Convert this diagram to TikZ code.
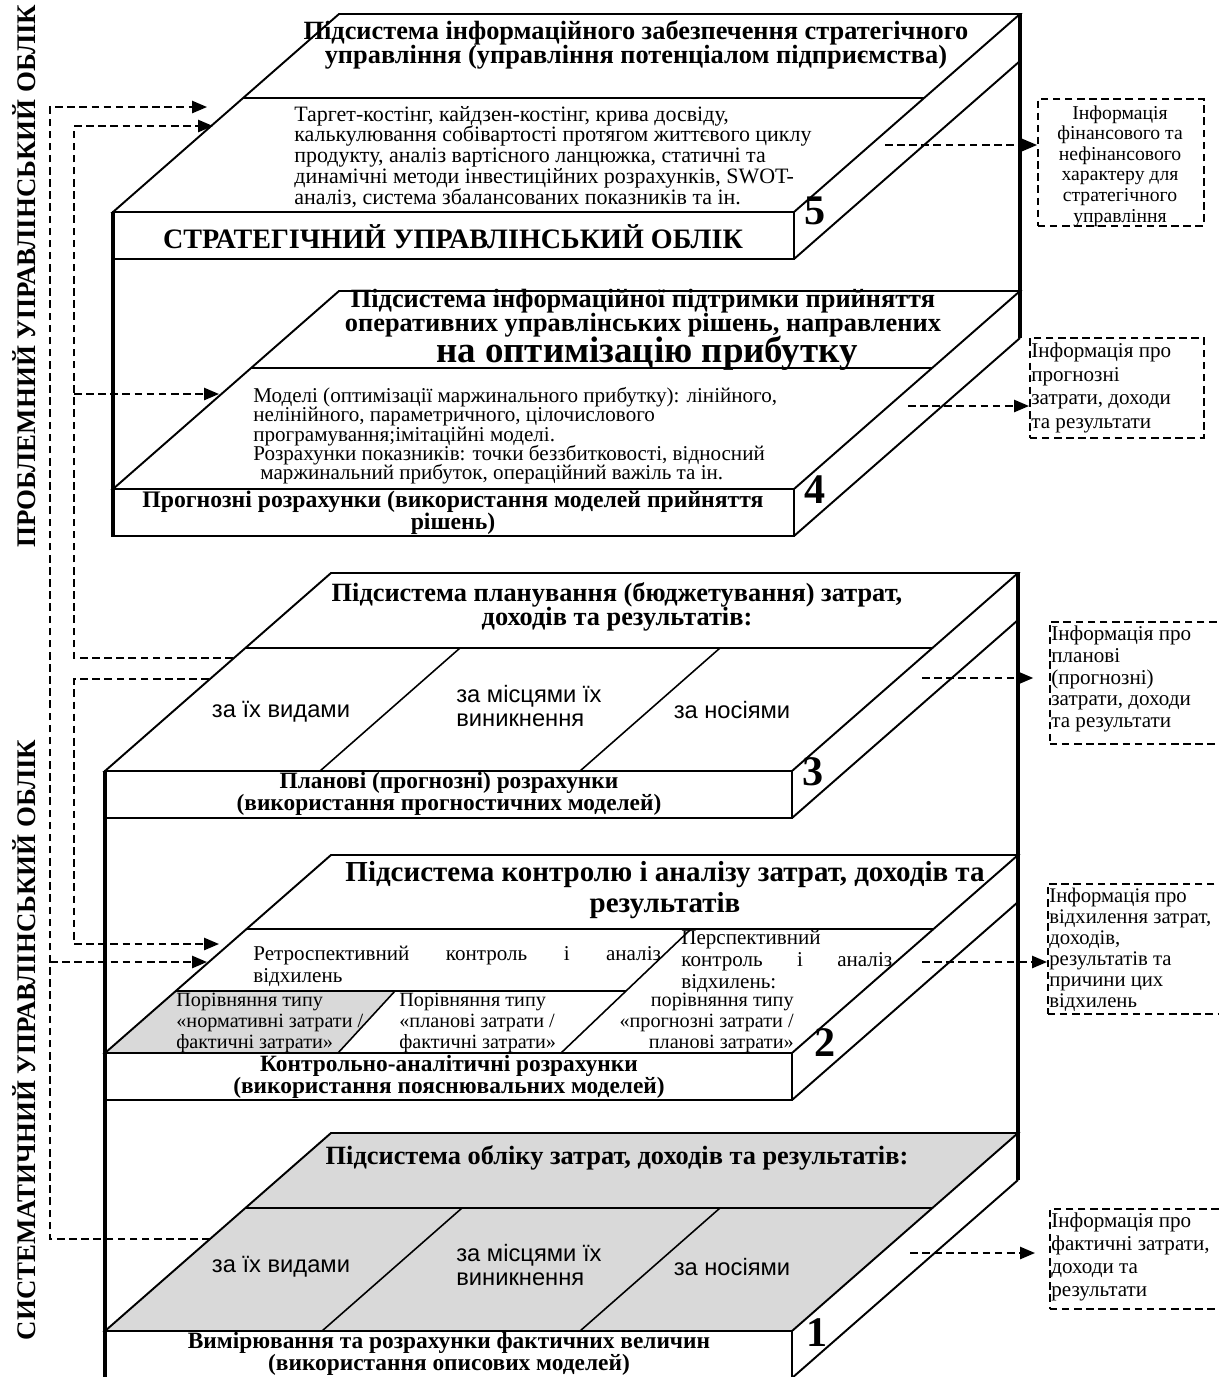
\documentclass[tikz,border=0pt]{standalone}
\usepackage{fontspec}
\setmainfont{Liberation Serif}
\newfontfamily\sansarial{Liberation Sans}
\usetikzlibrary{arrows.meta}
\newcommand\fsz[2]{\fontsize{#1}{#2}\selectfont\lineskiplimit=-100pt\relax}
\begin{document}
\begin{tikzpicture}[x=0.02cm,y=-0.02cm,
  edge/.style={line width=1.1pt,line join=miter},
  thinl/.style={line width=0.9pt},
  post/.style={line width=1.9pt},
  dline/.style={line width=0.9pt,dash pattern=on 4.3pt off 2.6pt},
  darrow/.style={dline,-{Triangle[length=8.5pt,width=7pt]}},
  frame/.style={dline,draw,inner sep=0pt,anchor=north west},
  txt/.style={inner sep=0pt},
  ttl/.style={txt,align=center,font=\fsz{15}{13.6}\bfseries},
  body/.style={txt,align=left,font=\fsz{12.5}{11.9}},
  front/.style={txt,align=center,font=\fsz{13.3}{12.4}\bfseries},
  num/.style={txt,font=\fsz{24}{24}\bfseries},
  col/.style={txt,align=left,font=\sansarial\fsz{13.5}{13.6}},
  side/.style={txt,rotate=90,font=\fsz{15.3}{15.3}\bfseries},
  info/.style={txt,align=left,anchor=west}
]
\useasboundingbox (0,0) rectangle (1219,1377);

% ---------- slab 5 ----------
\draw[edge] (113,212) -- (339,14) -- (1020,14) -- (794,212) -- cycle;
\draw[edge] (113,212) rectangle (794,259);
\draw[edge] (794,259) -- (1020,61);
\draw[thinl] (243,98) -- (924,98);
% ---------- slab 4 ----------
\draw[edge] (113,489) -- (339,291) -- (1020,291) -- (794,489) -- cycle;
\draw[edge] (113,489) rectangle (794,536);
\draw[edge] (794,536) -- (1020,338);
\draw[thinl] (251,368) -- (932,368);
\draw[post] (113,212) -- (113,537);
\draw[post] (1020,14) -- (1020,338);
% ---------- slab 3 ----------
\draw[edge] (105,771) -- (331,573) -- (1018,573) -- (792,771) -- cycle;
\draw[edge] (105,771) rectangle (792,818);
\draw[edge] (792,818) -- (1018,620);
\draw[thinl] (245,648) -- (932,648);
\draw[thinl] (460,648) -- (320,771);
\draw[thinl] (720,648) -- (580,771);
% ---------- slab 2 ----------
\fill[black!15] (176,991) -- (395,991) -- (338,1053) -- (105,1053) -- cycle;
\draw[edge] (105,1053) -- (331,855) -- (1018,855) -- (792,1053) -- cycle;
\draw[edge] (105,1053) rectangle (792,1100);
\draw[edge] (792,1100) -- (1018,902);
\draw[thinl] (246,929) -- (933,929);
\draw[thinl] (691,929) -- (561,1053);
\draw[thinl] (176,991) -- (626,991);
\draw[thinl] (395,991) -- (338,1053);
% ---------- slab 1 ----------
\draw[edge,fill=black!15] (105,1331) -- (331,1133) -- (1018,1133) -- (792,1331) -- cycle;
\draw[edge] (105,1331) rectangle (792,1378);
\draw[edge] (792,1378) -- (1018,1180);
\draw[thinl] (245,1208) -- (932,1208);
\draw[thinl] (462,1208) -- (322,1331);
\draw[thinl] (720,1208) -- (580,1331);
\draw[post] (105,771) -- (105,1380);
\draw[post] (1018,573) -- (1018,1180);

% ---------- texts slab 5 ----------
\node[ttl] (t5) at (636,45) {Підсистема інформаційного забезпечення стратегічного\\управління (управління потенціалом підприємства)};
\node[body,anchor=west] (c5) at (294,157) {Таргет-костінг,  кайдзен-костінг, крива досвіду,\\калькулювання собівартості протягом життєвого циклу\\продукту, аналіз вартісного ланцюжка, статичні та\\динамічні методи інвестиційних розрахунків, SWOT-\\аналіз, система збалансованих показників та ін.};
\node[txt,font=\fsz{16}{16}\bfseries] (f5) at (453,237) {СТРАТЕГІЧНИЙ УПРАВЛІНСЬКИЙ ОБЛІК};
\node[num] (n5) at (815,211) {5};
% ---------- texts slab 4 ----------
\node[ttl] (t4) at (643,313) {Підсистема інформаційної підтримки прийняття\\оперативних управлінських рішень, направлених};
\node[txt,font=\fsz{21}{21}\bfseries] (t4b) at (647,353) {на оптимізацію прибутку};
\node[body,anchor=west,font=\fsz{12}{11}] (c4) at (253,436) {Моделі (оптимізації маржинального прибутку): лінійного,\\нелінійного, параметричного, цілочислового\\програмування;імітаційні моделі.\\Розрахунки показників: точки беззбитковості, відносний\\\hspace*{4pt}маржинальний прибуток, операційний важіль  та ін.};
\node[front,font=\fsz{13.5}{12.5}\bfseries] (f4) at (453,513) {Прогнозні розрахунки (використання моделей прийняття\\рішень)};
\node[num] (n4) at (815,490) {4};
% ---------- texts slab 3 ----------
\node[ttl] (t3) at (617,607) {Підсистема планування (бюджетування) затрат,\\доходів та результатів:};
\node[col] (k31) at (281,712) {за  їх видами};
\node[col,anchor=west] (k32) at (456,706) {за місцями їх\\виникнення};
\node[col] (k33) at (732,710) {за носіями};
\node[front] (f3) at (449,794) {Планові (прогнозні) розрахунки\\(використання прогностичних моделей)};
\node[num] (n3) at (813,772) {3};
% ---------- texts slab 2 ----------
\node[txt,align=center,font=\fsz{16.5}{18}\bfseries] (t2) at (665,890) {Підсистема контролю і аналізу затрат, доходів та\\результатів};
\node[txt,anchor=west,font=\fsz{12}{12.5},text width=232pt,align=left] (c2l) at (253,966) {Ретроспективний\hfill контроль\hfill і\hfill аналіз\\відхилень};
\node[txt,anchor=north west,font=\fsz{12}{12.5},text width=120pt,align=left] (c2r) at (681,930) {Перспективний\\контроль\hfill і\hfill аналіз\\відхилень:};
\node[txt,anchor=north east,font=\fsz{11.5}{12},align=right] (c2p) at (794,993) {порівняння типу\\«прогнозні  затрати /\\планові затрати»};
\node[txt,anchor=west,font=\fsz{11.5}{12},align=left] (g1) at (176,1023) {Порівняння типу\\«нормативні  затрати /\\фактичні затрати»};
\node[txt,anchor=west,font=\fsz{11.5}{12},align=left] (g2) at (399,1023) {Порівняння типу\\«планові  затрати /\\фактичні затрати»};
\node[front] (f2) at (449,1077) {Контрольно-аналітичні розрахунки\\(використання пояснювальних моделей)};
\node[num] (n2) at (825,1043) {2};
% ---------- texts slab 1 ----------
\node[txt,font=\fsz{15}{15}\bfseries] (t1) at (617,1158) {Підсистема обліку затрат, доходів та результатів:};
\node[col] (k11) at (281,1267) {за  їх видами};
\node[col,anchor=west] (k12) at (456,1265) {за місцями їх\\виникнення};
\node[col] (k13) at (732,1267) {за носіями};
\node[front] (f1) at (449,1354) {Вимірювання та розрахунки фактичних величин\\(використання описових моделей)};
\node[num] (n1) at (817,1333) {1};

% ---------- side labels ----------
\node[side] (lp) at (24,276) {ПРОБЛЕМНИЙ УПРАВЛІНСЬКИЙ ОБЛІК};
\node[side] (ls) at (24,1040) {СИСТЕМАТИЧНИЙ УПРАВЛІНСЬКИЙ ОБЛІК};

% ---------- info boxes ----------
\node[frame,minimum width=3.32cm,minimum height=2.54cm] (i5) at (1037,98) {};
\node[txt,align=center,font=\fsz{11.2}{11.7}] (i5t) at (1120,166) {Інформація\\фінансового та\\нефінансового\\характеру для\\стратегічного\\управління};
\node[frame,minimum width=3.48cm,minimum height=2.0cm] (i4) at (1029,337) {};
\node[info,font=\fsz{12}{13.6}] (i4t) at (1031,388) {Інформація про\\прогнозні\\затрати, доходи\\та результати};
\node[frame,minimum width=3.6cm,minimum height=2.44cm] (i3) at (1049,621) {};
\node[info,font=\fsz{12}{12.3}] (i3t) at (1051,679) {Інформація про\\планові\\(прогнозні)\\затрати, доходи\\та результати};
\node[frame,minimum width=3.64cm,minimum height=2.6cm] (i2) at (1047,883) {};
\node[info,font=\fsz{11.8}{11.9}] (i2t) at (1049,950) {Інформація про\\відхилення затрат,\\доходів,\\результатів та\\причини  цих\\відхилень};
\node[frame,minimum width=3.6cm,minimum height=2.0cm] (i1) at (1049,1208) {};
\node[info,font=\fsz{12}{13}] (i1t) at (1051,1257) {Інформація про\\фактичні затрати,\\доходи  та\\результати};

% ---------- right arrows ----------
\coordinate (r5) at (885,145);
\coordinate (r4) at (908,406);
\coordinate (r3) at (922,678);
\coordinate (r2) at (922,962);
\coordinate (r1) at (910,1253);
\draw[darrow] (r5) -- (r5 -| i5.west);
\draw[darrow] (r4) -- (r4 -| i4.west);
\draw[darrow,shorten >=9pt] (r3) -- (r3 -| i3.west);
\draw[darrow] (r2) -- (r2 -| i2.west);
\draw[darrow,shorten >=8pt] (r1) -- (r1 -| i1.west);

% ---------- left connectors ----------
\coordinate (ax) at (50,0);
\coordinate (bx) at (74,0);
\coordinate (a1) at (210,1239);
\coordinate (a5) at (207,107);
\coordinate (a2) at (207,962);
\coordinate (b3) at (233,658);
\coordinate (b5) at (213,126);
\coordinate (b4) at (219,394);
\coordinate (c3) at (209,679);
\coordinate (c2) at (219,944);
\draw[darrow] (a1) -- (a1 -| ax) -- (ax |- a5) -- (a5);
\draw[darrow] (ax |- a2) -- (a2);
\draw[darrow] (b3) -- (b3 -| bx) -- (bx |- b5) -- (b5);
\draw[darrow] (bx |- b4) -- (b4);
\draw[darrow] (c3) -- (c3 -| bx) -- (bx |- c2) -- (c2);
\end{tikzpicture}
\end{document}
